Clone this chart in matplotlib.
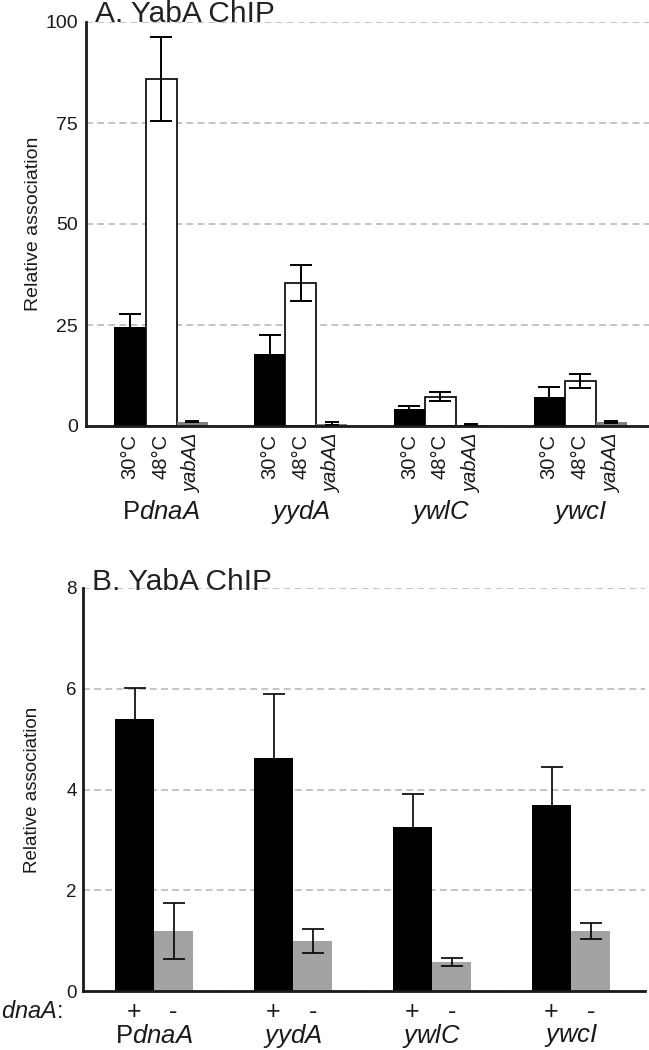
import numpy as np
import matplotlib
matplotlib.use("Agg")
import matplotlib.pyplot as plt

plt.rcParams['font.family'] = ['Liberation Sans', 'DejaVu Sans']
plt.rcParams['mathtext.fontset'] = 'custom'
plt.rcParams['mathtext.rm'] = 'Liberation Sans'
plt.rcParams['mathtext.it'] = 'Liberation Sans:italic'

# Data
genes = [r'P$\mathit{dnaA}$', r'$\mathit{yydA}$', r'$\mathit{ywlC}$', r'$\mathit{ywcI}$']
cond_labels = ['30°C', '48°C', 'yabAΔ']

# panel A
a_30 = [24.5, 17.8, 4.1, 7.1]
a_30_err = [3.2, 4.7, 0.9, 2.6]
a_48 = [85.9, 35.4, 7.3, 11.2]
a_48_err = [10.4, 4.4, 1.2, 1.7]
a_del = [1.1, 0.6, 0.3, 1.0]
a_del_err = [0.2, 0.4, 0.1, 0.2]

# panel B
b_plus = [5.40, 4.62, 3.25, 3.69]
b_plus_err = [0.61, 1.27, 0.66, 0.75]
b_minus = [1.19, 1.00, 0.58, 1.19]
b_minus_err = [0.55, 0.24, 0.08, 0.16]

grid_kw = dict(color='#b4b4b4', linewidth=1.1, linestyle=(0, (4.5, 2.8)))
spine_col = '#1a1a1a'
txt_col = '#1a1a1a'

fig = plt.figure(figsize=(6.49, 10.5), dpi=100)
axA = fig.add_axes([86/649, 1-426/1050, 563/649, 404/1050])
axB = fig.add_axes([83/649, 1-991/1050, 562/649, 403/1050])

for ax in (axA, axB):
    ax.spines['top'].set_visible(False)
    ax.spines['right'].set_visible(False)
    for s in ('left', 'bottom'):
        ax.spines[s].set_linewidth(2.0)
        ax.spines[s].set_color(spine_col)
    ax.set_axisbelow(True)
    ax.yaxis.grid(True, **grid_kw)
    ax.tick_params(length=0, labelcolor=txt_col)

# ---- Panel A ----
x = np.arange(len(genes))
w = 0.222
ekw = dict(ecolor='black', elinewidth=1.4, capthick=1.4)
axA.bar(x - w, a_30, w, color='black', yerr=a_30_err, capsize=8, error_kw=ekw)
axA.bar(x, a_48, w, color='white', edgecolor='black', linewidth=1.2,
        yerr=a_48_err, capsize=8, error_kw=ekw)
axA.bar(x + w, a_del, w, color='#7f7f7f', yerr=a_del_err, capsize=5, error_kw=ekw)

axA.set_xlim(-0.537, 3.493)
axA.set_ylim(0, 100)
axA.set_yticks([0, 25, 50, 75, 100])
axA.tick_params(axis='y', labelsize=14, pad=6)
ticks = np.concatenate([x - w, x, x + w])
labels = [cond_labels[0]] * 4 + [cond_labels[1]] * 4 + [cond_labels[2]] * 4
order = np.argsort(ticks)
axA.set_xticks(ticks[order])
axA.set_xticklabels([labels[i] for i in order], rotation=90, fontsize=14.5, va='top')
axA.tick_params(axis='x', pad=5.5)
for lbl in axA.get_xticklabels():
    if lbl.get_text().startswith('yab'):
        lbl.set_fontstyle('italic')

for i, g in enumerate(genes):
    axA.text(x[i], -0.213, g, transform=axA.get_xaxis_transform(),
             ha='center', va='center', fontsize=18.5, color=txt_col)

axA.text(-0.094, 0.5, 'Relative association', transform=axA.transAxes,
         rotation=90, ha='center', va='center', fontsize=14, color=txt_col)
axA.text(0.016, 1.0, 'A. YabA ChIP', transform=axA.transAxes, ha='left',
         va='baseline', fontsize=21.5, color='#222222', clip_on=False)

# ---- Panel B ----
wb = 0.281
ekwb = dict(ecolor='black', elinewidth=1.2, capthick=1.2)
axB.bar(x - wb/2, b_plus, wb, color='black', yerr=b_plus_err, capsize=8, error_kw=ekwb)
axB.bar(x + wb/2, b_minus, wb, color='#a3a3a3', yerr=b_minus_err, capsize=8, error_kw=ekwb)
axB.set_xlim(-0.511, 3.532)
axB.set_ylim(0, 8)
axB.set_yticks([0, 2, 4, 6, 8])
axB.tick_params(axis='y', labelsize=13.5, pad=4.5)
axB.set_xticks([])

for i, g in enumerate(genes):
    axB.text(x[i] - wb/2, -0.052, '+', transform=axB.get_xaxis_transform(),
             ha='center', va='center', fontsize=18, color=txt_col)
    axB.text(x[i] + wb/2, -0.052, '-', transform=axB.get_xaxis_transform(),
             ha='center', va='center', fontsize=18, color=txt_col)
    axB.text(x[i], -0.111, g, transform=axB.get_xaxis_transform(),
             ha='center', va='center', fontsize=18.5, color=txt_col)

axB.text(-0.036, -0.052, r'$\mathit{dnaA}$:', transform=axB.transAxes,
         ha='right', va='center', fontsize=17, color=txt_col)
axB.text(-0.089, 0.5, 'Relative association', transform=axB.transAxes,
         rotation=90, ha='center', va='center', fontsize=13.5, color=txt_col)
axB.text(0.016, 0.995, 'B. YabA ChIP', transform=axB.transAxes, ha='left',
         va='baseline', fontsize=21.5, color='#222222', clip_on=False)

fig.savefig('out.png', dpi=100)
